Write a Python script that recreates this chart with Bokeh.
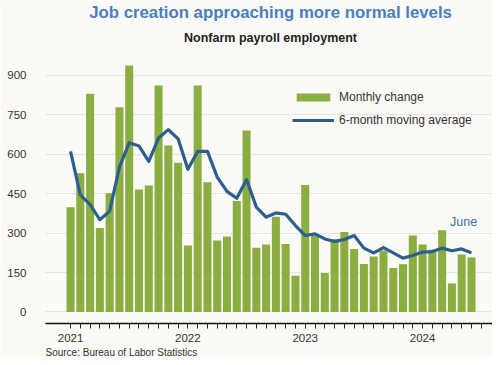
from bokeh.plotting import figure
from bokeh.models import (ColumnDataSource, Range1d, FixedTicker, Title, Legend,
                          LegendItem, Label)
from bokeh.embed import file_html
from bokeh.resources import INLINE

# Monthly change in nonfarm payrolls (thousands), Jan 2021 .. Jun 2024
monthly_change = [399, 528, 831, 320, 452, 779, 938, 466, 481, 862, 634, 568,
                  253, 862, 494, 272, 287, 422, 691, 244, 257, 362, 259, 138,
                  483, 291, 148, 278, 304, 240, 183, 211, 234, 167, 182, 291,
                  257, 237, 311, 108, 219, 207]
# 6-month moving average
moving_avg = [611, 446, 409, 351, 384, 551, 644, 632, 573, 662, 694, 659,
              543, 611, 611, 513, 459, 433, 504, 399, 361, 377, 372, 329,
              291, 297, 278, 268, 276, 291, 243, 225, 245, 225, 205, 215,
              228, 230, 243, 233, 240, 225]
year_labels = ["2021", "2022", "2023", "2024"]
y_ticks = [0, 150, 300, 450, 600, 750, 900]

months = list(range(len(monthly_change)))
src = ColumnDataSource(dict(x=months, change=monthly_change, avg=moving_avg))

BG = "#fbfaf7"
FONT = "Liberation Sans"

# frame spans the full height above the axis; titles are placed inside it
p = figure(width=492, height=357, output_backend="svg", toolbar_location=None,
           x_range=Range1d(-2.56, 43.15), y_range=Range1d(-43.8, 1185.4),
           min_border_left=45, min_border_right=0, min_border_top=0,
           min_border_bottom=34)
p.background_fill_color = BG
p.border_fill_color = BG
p.outline_line_color = None

bars = p.vbar(x="x", top="change", width=0.82, source=src,
              fill_color="#8aae3f", line_color=None)
line = p.line(x="x", y="avg", source=src, line_color="#2c5e8e", line_width=3.2,
              line_join="round")

# axes
xa = p.xaxis[0]
xa.ticker = FixedTicker(ticks=list(range(0, 43)))
overrides = {i: "" for i in range(0, 43)}
for k, yl in enumerate(year_labels):
    overrides[12 * k] = yl
xa.major_label_overrides = overrides
xa.axis_line_color = "#111111"
xa.axis_line_width = 1.6
xa.major_tick_line_color = "#222222"
xa.major_tick_in = 0
xa.major_tick_out = 5
xa.minor_tick_line_color = None
xa.major_label_standoff = 5
xa.major_label_text_font = FONT
xa.major_label_text_font_size = "11.5px"
xa.major_label_text_color = "#333333"

ya = p.yaxis[0]
ya.ticker = FixedTicker(ticks=y_ticks)
ya.axis_line_color = None
ya.major_tick_line_color = None
ya.minor_tick_line_color = None
ya.major_label_standoff = 13
ya.major_label_text_font = FONT
ya.major_label_text_font_size = "11.5px"
ya.major_label_text_color = "#333333"

p.xgrid.grid_line_color = None
p.ygrid.grid_line_color = "#e4e4e2"
p.ygrid.grid_line_width = 1

# legend
legend = Legend(items=[LegendItem(label="Monthly change", renderers=[bars]),
                       LegendItem(label="6-month moving average", renderers=[line])],
                location=(247, 193), orientation="vertical",
                glyph_width=42, glyph_height=10, label_standoff=5,
                label_height=20, spacing=3, padding=0, margin=0,
                border_line_color=None, background_fill_alpha=0,
                label_text_font=FONT, label_text_font_size="12px",
                label_text_color="#333333")
p.add_layout(legend)

p.add_layout(Label(x=40.2, y=344, text="June", text_align="center",
                   text_baseline="middle", text_font=FONT,
                   text_font_size="12.5px", text_color="#3d6fa8"))

# title and subtitle, centred over the plotting area
p.add_layout(Label(x=20.45, y=1140, text="Job creation approaching more normal levels",
                   text_align="center", text_baseline="middle", text_font=FONT,
                   text_font_size="16.8px", text_font_style="bold",
                   text_color="#4a7ebf"))
p.add_layout(Label(x=20.45, y=1041, text="Nonfarm payroll employment",
                   text_align="center", text_baseline="middle", text_font=FONT,
                   text_font_size="12.5px", text_font_style="bold",
                   text_color="#222222"))

p.add_layout(Title(text="Source: Bureau of Labor Statistics", align="left",
                   text_font=FONT, text_font_size="10px",
                   text_font_style="normal", text_color="#333333",
                   standoff=0), "below")

open("out.html", "w").write(file_html(p, INLINE))
